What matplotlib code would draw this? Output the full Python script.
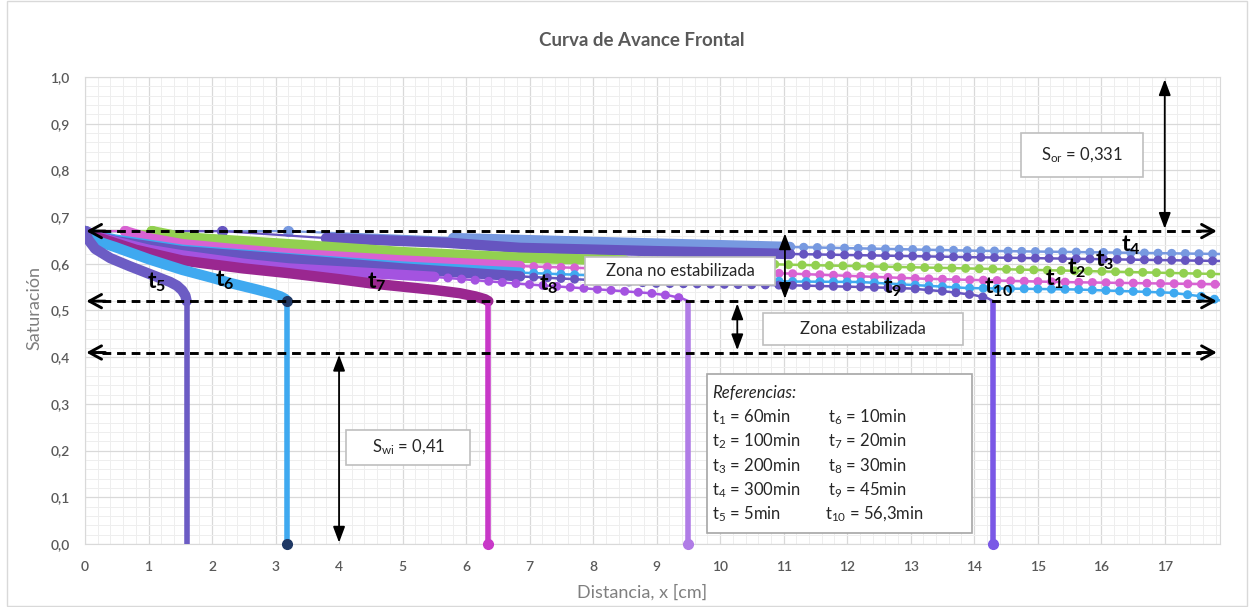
import matplotlib.pyplot as plt
from matplotlib.patches import Rectangle
from matplotlib.ticker import MultipleLocator

plt.rcParams['font.family'] = ['Lato', 'DejaVu Sans']
plt.rcParams['mathtext.fontset'] = 'custom'
plt.rcParams['mathtext.rm'] = 'Lato'
plt.rcParams['mathtext.it'] = 'Lato:italic'
plt.rcParams['mathtext.bf'] = 'Lato:bold'

# saturation profiles (x in cm)
x_t1 = [0, 0.63, 1.0, 1.53, 2.3, 3.2, 5.0, 6.85, 9.0, 11.1, 13.2, 15.3, 17.85]
s_t1 = [0.67, 0.67, 0.655, 0.642, 0.632, 0.622, 0.607, 0.595, 0.586, 0.579, 0.568, 0.561, 0.556]
x_t2 = [0, 1.05, 1.53, 2.3, 3.2, 5.0, 6.85, 8.5, 11.1, 14.25, 17.85]
s_t2 = [0.67, 0.67, 0.657, 0.65, 0.642, 0.625, 0.613, 0.607, 0.598, 0.589, 0.578]
x_t3 = [0, 2.15, 3.8, 5.7, 6.85, 9.0, 11.1, 14.0, 17.85]
s_t3 = [0.67, 0.67, 0.655, 0.645, 0.634, 0.627, 0.621, 0.614, 0.606]
x_t4 = [0, 3.2, 5.8, 6.85, 8.5, 11.1, 14.0, 17.85]
s_t4 = [0.67, 0.67, 0.655, 0.651, 0.645, 0.636, 0.628, 0.621]
x_t5 = [0, 0.05, 0.16, 0.4, 0.7, 1.02, 1.34, 1.45, 1.53, 1.58, 1.6]
s_t5 = [0.67, 0.652, 0.632, 0.612, 0.595, 0.578, 0.561, 0.553, 0.543, 0.532, 0.52]
x_t6 = [0, 0.05, 0.15, 0.47, 1.0, 1.53, 2.0, 2.31, 2.7, 2.95, 3.08, 3.15, 3.18]
s_t6 = [0.67, 0.66, 0.65, 0.636, 0.61, 0.587, 0.57, 0.558, 0.545, 0.536, 0.53, 0.525, 0.52]
x_t7 = [0, 0.1, 0.3, 0.8, 1.53, 2.5, 3.2, 4.0, 4.5, 5.0, 5.5, 5.9, 6.15, 6.3, 6.35]
s_t7 = [0.67, 0.66, 0.652, 0.63, 0.607, 0.59, 0.58, 0.567, 0.558, 0.551, 0.544, 0.537, 0.53, 0.524, 0.52]
x_t8 = [0, 0.15, 0.4, 1.0, 1.53, 2.5, 3.2, 4.5, 5.5, 6.85, 7.8, 8.4, 8.9, 9.2, 9.4, 9.5]
s_t8 = [0.67, 0.66, 0.65, 0.63, 0.618, 0.6, 0.59, 0.58, 0.572, 0.557, 0.548, 0.542, 0.537, 0.532, 0.526, 0.52]
x_t9 = [0, 0.2, 0.5, 1.53, 3.2, 5.0, 6.85, 9.0, 11.1, 12.3, 13.0, 13.6, 14.0, 14.2, 14.3]
s_t9 = [0.67, 0.658, 0.648, 0.627, 0.61, 0.59, 0.573, 0.558, 0.554, 0.55, 0.547, 0.54, 0.533, 0.527, 0.52]
x_t10 = [0, 0.2, 0.47, 1.53, 3.2, 5.0, 6.85, 9.0, 11.1, 12.2, 13.9, 15.6, 17.1, 17.6, 17.85]
s_t10 = [0.67, 0.66, 0.652, 0.63, 0.612, 0.594, 0.581, 0.57, 0.562, 0.561, 0.548, 0.545, 0.538, 0.53, 0.522]

# front positions (vertical drop to 0)
x_frente = [1.6, 3.18, 6.35, 9.5, 14.3]
s_frente = 0.52

s_or_linea = 0.67
s_frente_linea = 0.52
s_wi = 0.41

referencias = [('1', '60min'), ('2', '100min'), ('3', '200min'), ('4', '300min'), ('5', '5min'),
               ('6', '10min'), ('7', '20min'), ('8', '30min'), ('9', '45min'), ('10', '56,3min')]

# (x, s, color, end of thin part, end of solid part)
series = [
    (x_t4, s_t4, '#7799E0', 2, 5),
    (x_t3, s_t3, '#6655C0', 2, 6),
    (x_t2, s_t2, '#92D050', 1, 7),
    (x_t1, s_t1, '#D862D2', 1, 7),
    (x_t10, s_t10, '#3FA9F0', 0, 6),
    (x_t9, s_t9, '#6655C0', 0, 6),
    (x_t8, s_t8, '#A453E0', 0, 8),
    (x_t7, s_t7, '#9A2790', 0, 14),
    (x_t6, s_t6, '#3FA9F0', 0, 12),
    (x_t5, s_t5, '#6C5CC4', 0, 10),
]
colores_frente = ['#6C5CC4', '#3FA9F0', '#C838C8', '#B07CE6', '#7A58E6']
colores_base = [None, '#1F3864', '#C838C8', '#B07CE6', '#7A58E6']

fig = plt.figure(figsize=(12.5, 6.07), dpi=100)
ax = fig.add_axes([0.068, 0.1038, 0.908, 0.7694])

for x, s, c, n_thin, n_solid in series:
    if n_thin > 0:
        ax.plot(x[:n_thin + 1], s[:n_thin + 1], color=c, lw=1.6, zorder=3)
        ax.plot(x[:n_thin + 1], s[:n_thin + 1], 'o', color=c, ms=7, zorder=3)
    ax.plot(x[n_thin:n_solid + 1], s[n_thin:n_solid + 1], color=c, lw=7.5,
            solid_capstyle='round', solid_joinstyle='round', zorder=3)
    if n_solid < len(x) - 1:
        ax.plot(x[n_solid:], s[n_solid:], color=c, lw=1.8, zorder=3)
        ax.plot(x[n_solid:], s[n_solid:], color=c, lw=6.5, linestyle=(0, (0.01, 1.5)),
                dash_capstyle='round', zorder=3)

for xf, c, cb in zip(x_frente, colores_frente, colores_base):
    ax.plot([xf, xf], [s_frente, 0], color=c, lw=4, solid_capstyle='butt', zorder=3)
    if cb:
        ax.plot([xf], [0], 'o', color=cb, ms=7, zorder=4, clip_on=False)
ax.plot([x_frente[1]], [s_frente], 'o', color='#1F3864', ms=7, zorder=4)

# dashed reference lines with open arrow heads
x0, x1 = 0.02, 17.82
for yv in [s_or_linea, s_frente_linea, s_wi]:
    ax.plot([x0 + 0.25, x1 - 0.25], [yv, yv], color='black', lw=2.1, dashes=(3, 2), zorder=5)
    for tip, tail in [(x0, x0 + 0.3), (x1, x1 - 0.3)]:
        ax.annotate('', xy=(tip, yv), xytext=(tail, yv),
                    arrowprops=dict(arrowstyle='->, head_length=0.55, head_width=0.3',
                                    lw=2.1, color='black', mutation_scale=16, shrinkA=0, shrinkB=0),
                    zorder=5)

# vertical double arrows
for xv, ya, yb in [(17.0, 0.995, 0.675), (11.02, 0.665, 0.525), (10.27, 0.515, 0.415), (4.0, 0.405, 0.003)]:
    ax.annotate('', xy=(xv, ya), xytext=(xv, yb),
                arrowprops=dict(arrowstyle='<|-|>, head_length=0.8, head_width=0.3',
                                lw=1.3, color='black', mutation_scale=12, shrinkA=0, shrinkB=0),
                zorder=5)

# curve labels
etiquetas = [('5', 1.13, 0.561), ('6', 2.2, 0.565), ('7', 4.6, 0.561), ('8', 7.3, 0.557),
             ('9', 12.72, 0.55), ('10', 14.38, 0.55), ('1', 15.26, 0.567), ('2', 15.62, 0.591),
             ('3', 16.06, 0.608), ('4', 16.46, 0.64)]
for n, xt, yt in etiquetas:
    ax.text(xt, yt, r'$\mathbf{t_{%s}}$' % n, fontsize=16.5, ha='center', va='center',
            color='black', zorder=6)

def caja(x_a, x_b, y_a, y_b, ec='#BFBFBF'):
    ax.add_patch(Rectangle((x_a, y_a), x_b - x_a, y_b - y_a, facecolor='white',
                           edgecolor=ec, lw=1.2, zorder=7))

caja(14.74, 16.66, 0.786, 0.880)
ax.text(15.7, 0.833, r'S$_{\rm or}$ = 0,331', fontsize=12, ha='center', va='center', color='#262626', zorder=8)
caja(7.874, 10.866, 0.5546, 0.6146)
ax.text(9.37, 0.585, 'Zona no estabilizada', fontsize=12, ha='center', va='center', color='#262626', zorder=8)
caja(10.677, 13.827, 0.4261, 0.4946)
ax.text(12.25, 0.46, 'Zona estabilizada', fontsize=12, ha='center', va='center', color='#262626', zorder=8)
caja(4.11, 6.063, 0.169, 0.244)
ax.text(5.09, 0.2066, r'S$_{\rm wi}$ = 0,41', fontsize=12, ha='center', va='center', color='#262626', zorder=8)

caja(9.795, 13.968, 0.0236, 0.364, ec='#A6A6A6')
ax.text(9.874, 0.3233, 'Referencias:', fontsize=12, style='italic', ha='left', va='center',
        color='#262626', zorder=8)
filas = [0.272, 0.2206, 0.167, 0.1156, 0.0642]
for i, (n, val) in enumerate(referencias):
    xc = 9.874 if i < 5 else (11.70 if n != '10' else 11.65)
    ax.text(xc, filas[i % 5], r't$_{\rm %s}$ = %s' % (n, val), fontsize=12, ha='left', va='center',
            color='#262626', zorder=8)

ax.set_xlim(0, 17.87)
ax.set_ylim(0, 1.0)
ax.set_xticks(range(18))
ax.set_yticks([i / 10 for i in range(11)])
ax.set_yticklabels([f'{i / 10:.1f}'.replace('.', ',') for i in range(11)])
ax.xaxis.set_minor_locator(MultipleLocator(0.2))
ax.yaxis.set_minor_locator(MultipleLocator(0.02))
ax.grid(which='major', color='#D9D9D9', lw=0.9, zorder=0)
ax.grid(which='minor', color='#EEEEEE', lw=0.7, zorder=0)
ax.set_axisbelow(True)
ax.tick_params(which='both', length=0, colors='#595959', labelsize=10)
ax.tick_params(axis='x', pad=12)
ax.tick_params(axis='y', pad=11)
for lbl in ax.get_xticklabels() + ax.get_yticklabels():
    lbl.set_fontweight('semibold')
for sp in ax.spines.values():
    sp.set_color('#D9D9D9')

fig.text(642 / 1250, 1 - 592 / 607, 'Distancia, x [cm]', fontsize=13, color='#7F7F7F',
         ha='center', va='center')
fig.text(34 / 1250, 1 - 308 / 607, 'Saturación', fontsize=13, color='#7F7F7F',
         ha='center', va='center', rotation=90)
fig.text(642 / 1250, 1 - 40 / 607, 'Curva de Avance Frontal', fontsize=13.5, fontweight='bold',
         color='#595959', ha='center', va='center')

fig.patches.append(Rectangle((7 / 1250, 0.002), 1240 / 1250, 0.996, transform=fig.transFigure,
                             fill=False, edgecolor='#D9D9D9', lw=1))

fig.savefig('out.png', dpi=100)
